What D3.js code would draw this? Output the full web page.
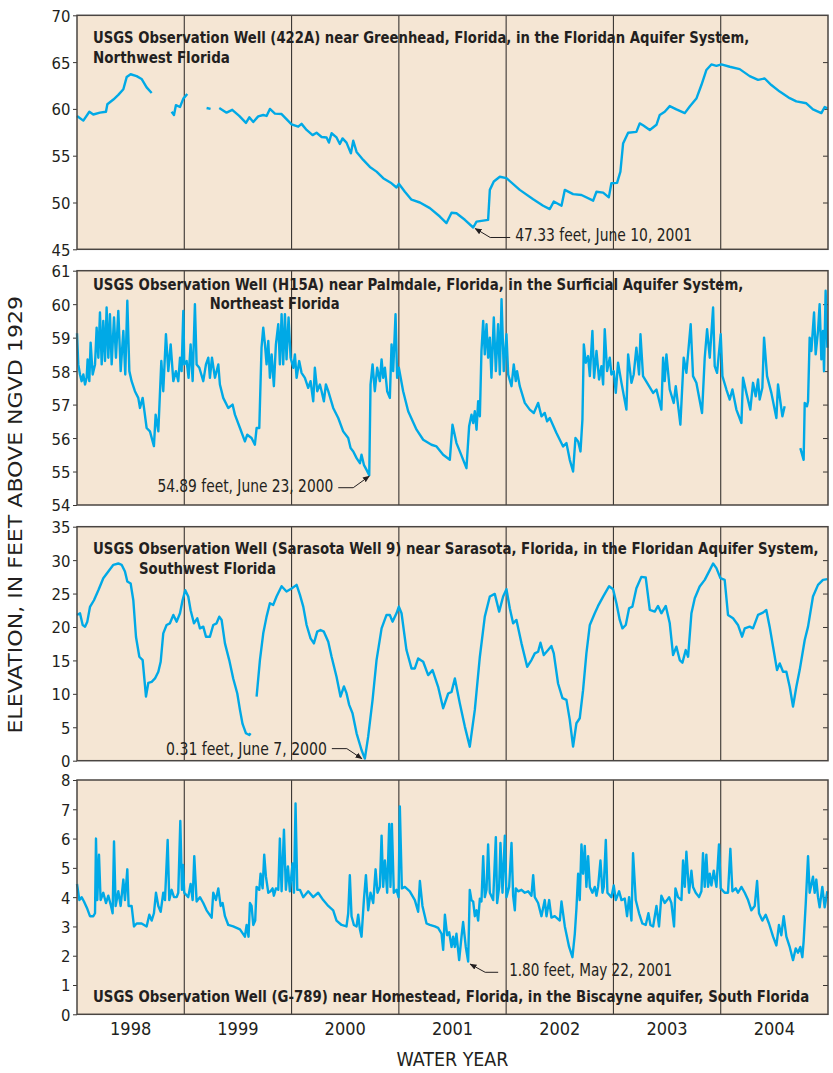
<!DOCTYPE html>
<html>
<head>
<meta charset="utf-8">
<script src="https://cdn.jsdelivr.net/npm/d3@7"></script>
<style>
  body { margin: 0; background: #fff; }
  svg { display: block; }
  text { font-family: "Liberation Sans Narrow", "DejaVu Sans Condensed", "Roboto", sans-serif; fill: #231f20; }
</style>
</head>
<body>
<svg id="chart" width="833" height="1073"></svg>
<script>

// water years shown (a water year runs Oct 1 to Sep 30)
const waterYears = [1998, 1999, 2000, 2001, 2002, 2003, 2004];

// well 422A, Greenhead (feet above NGVD 1929), time in decimal years; null = no record
const greenhead = [
  [1997.750,59.25],[1997.809,58.75],[1997.865,59.7],[1997.902,59.4],[1997.964,59.6],[1998.020,59.7],
  [1998.033,60.5],[1998.089,61.0],[1998.135,61.5],[1998.182,62.1],[1998.213,63.4],[1998.250,63.7],
  [1998.306,63.5],[1998.352,63.2],[1998.399,62.3],[1998.446,61.7],[1998.54,null],
  [1998.632,59.7],[1998.654,59.35],[1998.672,60.4],[1998.710,60.2],[1998.741,61.1],[1998.778,61.6],[1998.87,null],
  [1998.958,60.1],[1998.995,60.0],[1999.04,null],
  [1999.076,60.1],[1999.144,59.6],[1999.197,59.9],[1999.262,59.25],[1999.325,58.5],[1999.356,59.1],
  [1999.393,58.6],[1999.439,59.2],[1999.486,59.35],[1999.517,59.25],[1999.548,60.0],[1999.595,59.5],
  [1999.657,59.45],[1999.750,58.35],[1999.812,58.1],[1999.843,58.4],[1999.890,57.75],[1999.946,57.2],
  [1999.983,57.45],[2000.030,57.0],[2000.076,56.95],[2000.098,56.4],[2000.123,57.4],[2000.169,56.95],
  [2000.200,56.25],[2000.225,56.85],[2000.262,56.4],[2000.303,55.25],[2000.325,56.6],[2000.356,55.4],
  [2000.418,54.55],[2000.480,53.8],[2000.542,53.3],[2000.604,52.6],[2000.682,52.05],[2000.728,51.6],
  [2000.750,52.0],[2000.806,51.15],[2000.868,50.3],[2000.946,50.0],[2001.039,49.4],[2001.132,48.5],
  [2001.194,47.8],[2001.241,48.9],[2001.287,48.85],[2001.365,48.15],[2001.443,47.33],[2001.474,47.95],
  [2001.582,48.15],[2001.598,51.35],[2001.635,52.25],[2001.691,52.75],[2001.753,52.6],[2001.877,51.35],
  [2002.002,50.35],[2002.095,49.65],[2002.157,49.3],[2002.194,50.1],[2002.266,49.65],[2002.297,51.35],
  [2002.374,50.9],[2002.452,50.8],[2002.561,50.2],[2002.592,51.15],[2002.654,51.05],[2002.707,50.55],
  [2002.731,52.05],[2002.784,52.1],[2002.815,53.3],[2002.840,56.3],[2002.887,57.45],[2002.964,57.55],
  [2002.995,58.45],[2003.026,58.25],[2003.089,57.75],[2003.151,58.3],[2003.182,59.35],[2003.228,59.7],
  [2003.275,60.3],[2003.337,59.95],[2003.415,59.55],[2003.461,60.25],[2003.523,61.1],[2003.570,62.55],
  [2003.616,64.15],[2003.663,64.75],[2003.710,64.6],[2003.756,64.75],[2003.834,64.5],[2003.927,64.25],
  [2004.020,63.5],[2004.098,63.1],[2004.160,63.25],[2004.222,62.55],[2004.300,61.85],[2004.393,61.15],
  [2004.455,60.8],[2004.548,60.6],[2004.610,59.95],[2004.688,59.55],[2004.719,60.2],[2004.744,60.05]
];

// well H15A, Palmdale
const palmdale = [
  [1997.750,59.13],[1997.762,58.2],[1997.778,57.9],[1997.793,57.7],[1997.809,57.9],[1997.825,57.6],
  [1997.840,57.8],[1997.849,58.35],[1997.865,57.7],[1997.877,58.85],[1997.896,57.9],[1997.918,58.2],
  [1997.933,59.3],[1997.949,58.4],[1997.964,59.75],[1997.980,58.2],[1997.995,59.5],[1998.011,58.3],
  [1998.026,59.9],[1998.042,58.4],[1998.057,59.7],[1998.073,58.2],[1998.095,59.6],[1998.113,58.4],
  [1998.135,59.8],[1998.157,58.0],[1998.182,59.2],[1998.200,57.9],[1998.219,60.1],[1998.238,58.0],
  [1998.259,57.7],[1998.290,57.4],[1998.321,57.2],[1998.337,56.9],[1998.362,57.2],[1998.399,56.3],
  [1998.430,56.2],[1998.467,55.76],[1998.483,56.7],[1998.508,56.2],[1998.536,58.3],[1998.554,57.4],
  [1998.579,59.1],[1998.601,58.0],[1998.623,58.8],[1998.648,57.7],[1998.672,58.0],[1998.694,57.7],
  [1998.710,58.4],[1998.725,58.0],[1998.741,59.8],[1998.750,58.2],[1998.772,58.3],[1998.790,57.8],
  [1998.809,58.8],[1998.828,57.7],[1998.849,60.0],[1998.865,58.2],[1998.890,58.1],[1998.927,57.7],
  [1998.952,58.2],[1998.974,58.4],[1998.989,57.8],[1999.008,58.4],[1999.036,57.8],[1999.067,58.2],
  [1999.082,57.6],[1999.113,57.2],[1999.160,56.9],[1999.200,57.0],[1999.222,56.7],[1999.269,56.3],
  [1999.315,55.9],[1999.337,56.1],[1999.377,56.0],[1999.408,55.8],[1999.424,56.3],[1999.449,56.3],
  [1999.470,58.7],[1999.486,59.3],[1999.502,58.8],[1999.517,58.2],[1999.533,58.9],[1999.548,57.8],
  [1999.564,58.5],[1999.585,57.55],[1999.604,58.8],[1999.626,59.4],[1999.641,58.2],[1999.657,59.7],
  [1999.672,58.2],[1999.688,59.7],[1999.703,58.35],[1999.722,59.6],[1999.741,58.4],[1999.766,58.1],
  [1999.781,58.5],[1999.797,57.8],[1999.821,58.3],[1999.843,57.95],[1999.874,57.8],[1999.905,57.5],
  [1999.927,57.7],[1999.952,57.1],[1999.967,58.1],[1999.989,57.4],[2000.014,57.6],[2000.030,57.4],
  [2000.051,57.1],[2000.070,57.6],[2000.092,57.4],[2000.138,56.9],[2000.185,56.6],[2000.231,56.2],
  [2000.278,56.0],[2000.300,55.7],[2000.325,55.6],[2000.356,55.4],[2000.387,55.25],[2000.402,55.5],
  [2000.424,55.2],[2000.449,55.05],[2000.474,54.89],[2000.486,57.6],[2000.505,58.2],[2000.526,57.4],
  [2000.548,58.1],[2000.573,57.7],[2000.589,58.35],[2000.604,57.8],[2000.620,58.1],[2000.641,57.4],
  [2000.666,57.2],[2000.682,58.8],[2000.697,58.0],[2000.719,59.7],[2000.734,57.8],[2000.750,58.1],
  [2000.790,57.4],[2000.837,56.8],[2000.915,56.25],[2000.977,55.95],[2001.054,55.8],[2001.101,55.75],
  [2001.163,55.5],[2001.225,55.35],[2001.250,56.4],[2001.287,55.85],[2001.325,55.55],[2001.380,55.1],
  [2001.405,56.35],[2001.427,56.7],[2001.443,56.45],[2001.458,56.8],[2001.474,56.25],[2001.489,57.1],
  [2001.505,56.65],[2001.520,58.6],[2001.536,59.5],[2001.551,58.5],[2001.567,59.4],[2001.582,58.4],
  [2001.598,59.0],[2001.613,57.8],[2001.635,59.6],[2001.654,58.0],[2001.675,59.4],[2001.691,57.9],
  [2001.707,60.15],[2001.728,58.0],[2001.753,59.1],[2001.769,57.9],[2001.800,57.55],[2001.821,58.2],
  [2001.840,57.7],[2001.852,58.0],[2001.877,57.55],[2001.924,57.05],[2001.970,56.85],[2002.008,56.75],
  [2002.048,57.05],[2002.079,56.65],[2002.110,56.75],[2002.132,56.5],[2002.157,56.6],[2002.219,56.15],
  [2002.281,55.75],[2002.312,55.85],[2002.343,55.35],[2002.374,55.0],[2002.396,56.0],[2002.421,55.9],
  [2002.443,55.6],[2002.461,56.55],[2002.474,58.8],[2002.492,58.25],[2002.514,58.45],[2002.530,57.85],
  [2002.554,59.2],[2002.570,57.8],[2002.592,58.6],[2002.616,57.75],[2002.638,58.15],[2002.654,57.6],
  [2002.669,59.25],[2002.691,58.0],[2002.716,58.4],[2002.731,57.9],[2002.753,58.0],[2002.772,57.35],
  [2002.793,58.25],[2002.825,57.65],[2002.871,56.85],[2002.887,58.5],[2002.918,57.65],[2002.939,57.9],
  [2002.964,58.7],[2002.989,57.9],[2003.002,59.1],[2003.026,57.85],[2003.064,57.65],[2003.120,57.35],
  [2003.151,57.45],[2003.197,56.85],[2003.213,58.4],[2003.228,57.7],[2003.244,58.5],[2003.275,57.45],
  [2003.312,57.05],[2003.331,57.55],[2003.374,56.4],[2003.405,58.4],[2003.430,57.95],[2003.470,59.4],
  [2003.492,57.85],[2003.523,57.65],[2003.576,56.75],[2003.601,58.4],[2003.623,59.25],[2003.648,58.4],
  [2003.679,59.9],[2003.694,58.15],[2003.716,57.95],[2003.750,59.1],[2003.766,57.85],[2003.803,57.45],
  [2003.834,57.15],[2003.859,57.45],[2003.896,56.85],[2003.943,56.45],[2003.958,57.8],[2003.989,57.35],
  [2004.026,56.85],[2004.051,57.65],[2004.076,57.25],[2004.098,57.75],[2004.113,57.15],[2004.138,57.5],
  [2004.154,59.0],[2004.182,57.85],[2004.222,57.35],[2004.269,56.6],[2004.284,57.6],[2004.325,56.65],
  [2004.346,56.95],[2004.42,null],
  [2004.492,55.7],[2004.523,55.35],[2004.533,57.05],[2004.554,56.95],[2004.564,57.1],[2004.579,59.0],
  [2004.595,58.6],[2004.610,59.3],[2004.620,59.75],[2004.635,58.5],[2004.657,59.2],[2004.672,60.0],
  [2004.688,58.35],[2004.703,59.2],[2004.713,58.0],[2004.728,60.4],[2004.744,58.7]
];

// Sarasota Well 9
const sarasota = [
  [1997.750,21.8],[1997.778,22.05],[1997.803,20.3],[1997.825,20.05],[1997.846,20.8],[1997.871,23.0],
  [1997.908,24.0],[1997.949,25.5],[1997.995,27.3],[1998.042,28.3],[1998.089,29.3],[1998.135,29.5],
  [1998.166,29.3],[1998.197,28.3],[1998.219,26.8],[1998.250,26.5],[1998.275,24.0],[1998.300,18.5],
  [1998.331,15.55],[1998.362,15.05],[1998.393,9.6],[1998.415,11.65],[1998.446,11.8],[1998.477,12.3],
  [1998.508,13.3],[1998.530,14.8],[1998.554,19.05],[1998.585,20.3],[1998.616,20.55],[1998.648,21.8],
  [1998.679,20.8],[1998.710,22.05],[1998.734,24.0],[1998.759,25.5],[1998.787,24.55],[1998.809,22.5],
  [1998.840,20.55],[1998.871,21.3],[1998.896,19.8],[1998.927,20.05],[1998.952,18.55],[1998.989,18.55],
  [1999.020,20.3],[1999.051,20.55],[1999.076,21.55],[1999.098,21.05],[1999.129,17.55],[1999.169,15.05],
  [1999.206,12.3],[1999.244,10.05],[1999.269,7.6],[1999.293,5.5],[1999.325,4.1],[1999.356,3.85],
  [1999.368,4.1],[1999.40,null],
  [1999.424,9.6],[1999.455,15.05],[1999.486,19.05],[1999.517,21.55],[1999.548,23.55],[1999.579,23.3],
  [1999.610,24.55],[1999.657,26.1],[1999.703,25.3],[1999.750,25.75],[1999.797,26.3],[1999.828,24.8],
  [1999.859,23.05],[1999.890,20.3],[1999.927,18.3],[1999.958,17.55],[1999.989,19.3],[2000.020,19.55],
  [2000.051,19.3],[2000.092,17.8],[2000.123,15.55],[2000.169,12.55],[2000.206,9.6],[2000.238,11.1],
  [2000.262,10.1],[2000.287,8.35],[2000.318,7.1],[2000.356,4.1],[2000.402,1.6],[2000.433,0.31],
  [2000.464,3.6],[2000.505,9.1],[2000.542,15.05],[2000.589,19.8],[2000.635,21.8],[2000.666,21.8],
  [2000.691,20.8],[2000.728,22.05],[2000.750,23.05],[2000.775,22.05],[2000.821,16.55],[2000.868,13.8],
  [2000.899,13.8],[2000.930,15.3],[2000.977,14.8],[2001.023,12.8],[2001.064,13.55],[2001.116,11.05],
  [2001.163,7.85],[2001.210,10.05],[2001.241,10.3],[2001.272,12.3],[2001.318,8.6],[2001.365,5.1],
  [2001.411,2.1],[2001.458,7.6],[2001.505,15.55],[2001.551,21.55],[2001.598,24.55],[2001.644,24.95],
  [2001.685,22.3],[2001.722,24.55],[2001.753,25.65],[2001.784,22.8],[2001.815,20.55],[2001.846,21.05],
  [2001.893,17.55],[2001.946,14.05],[2001.986,15.05],[2002.017,16.05],[2002.048,16.3],[2002.070,17.65],
  [2002.101,15.8],[2002.141,16.55],[2002.172,17.15],[2002.194,16.05],[2002.234,11.55],[2002.275,9.35],
  [2002.312,9.1],[2002.343,6.1],[2002.374,2.1],[2002.405,5.6],[2002.436,6.35],[2002.467,10.55],
  [2002.498,16.05],[2002.530,20.3],[2002.576,22.05],[2002.607,23.15],[2002.654,24.55],[2002.710,26.1],
  [2002.747,25.65],[2002.778,23.55],[2002.809,21.05],[2002.834,19.8],[2002.865,20.3],[2002.896,22.8],
  [2002.927,23.05],[2002.964,25.8],[2003.011,27.5],[2003.051,27.4],[2003.089,22.55],[2003.135,22.3],
  [2003.166,23.15],[2003.197,22.05],[2003.238,23.15],[2003.275,20.55],[2003.306,15.8],[2003.337,17.05],
  [2003.368,15.05],[2003.393,14.65],[2003.424,16.55],[2003.446,15.55],[2003.477,22.05],[2003.508,24.3],
  [2003.554,26.05],[2003.601,27.05],[2003.648,28.5],[2003.679,29.5],[2003.710,28.8],[2003.747,27.3],
  [2003.787,27.05],[2003.818,21.8],[2003.865,21.3],[2003.911,20.3],[2003.949,18.55],[2003.974,19.8],
  [2004.020,20.05],[2004.051,19.8],[2004.098,21.8],[2004.144,22.15],[2004.175,22.55],[2004.206,20.05],
  [2004.238,17.05],[2004.275,13.55],[2004.300,14.55],[2004.331,13.3],[2004.362,13.3],[2004.393,11.05],
  [2004.424,8.1],[2004.455,11.05],[2004.486,13.55],[2004.533,18.05],[2004.564,20.05],[2004.610,24.55],
  [2004.657,26.3],[2004.703,27.05],[2004.744,27.15]
];

// well G-789, Homestead
const homestead = [
  [1997.750,4.45],[1997.772,3.9],[1997.793,4.0],[1997.815,3.85],[1997.846,3.6],[1997.871,3.35],
  [1997.902,3.35],[1997.918,3.45],[1997.927,6.0],[1997.939,3.9],[1997.955,5.45],[1997.970,3.9],
  [1997.995,4.15],[1998.020,3.8],[1998.042,4.05],[1998.067,3.7],[1998.082,3.45],[1998.095,5.9],
  [1998.110,3.7],[1998.135,4.2],[1998.157,3.7],[1998.182,4.6],[1998.197,3.9],[1998.219,4.95],
  [1998.231,3.7],[1998.259,3.7],[1998.281,3.0],[1998.306,3.1],[1998.352,3.1],[1998.399,3.0],
  [1998.424,3.4],[1998.446,3.2],[1998.467,3.45],[1998.486,4.15],[1998.508,3.7],[1998.530,3.5],
  [1998.554,4.15],[1998.570,3.9],[1998.595,5.95],[1998.610,3.9],[1998.632,4.25],[1998.654,4.0],
  [1998.679,4.0],[1998.694,4.15],[1998.713,6.6],[1998.728,4.25],[1998.738,5.1],[1998.750,4.15],
  [1998.787,4.0],[1998.809,4.45],[1998.828,3.9],[1998.843,5.4],[1998.865,3.85],[1998.896,4.0],
  [1998.927,3.8],[1998.958,3.55],[1999.005,3.3],[1999.020,4.15],[1999.045,3.9],[1999.067,4.3],
  [1999.089,3.7],[1999.107,3.8],[1999.129,3.35],[1999.160,3.05],[1999.206,3.0],[1999.269,2.9],
  [1999.315,2.65],[1999.331,3.05],[1999.349,2.65],[1999.362,3.8],[1999.377,3.7],[1999.393,3.05],
  [1999.411,3.2],[1999.424,4.35],[1999.449,4.25],[1999.461,4.8],[1999.480,4.3],[1999.495,5.45],
  [1999.511,4.7],[1999.533,4.15],[1999.554,4.2],[1999.573,4.3],[1999.585,4.05],[1999.604,4.3],
  [1999.626,4.25],[1999.641,6.0],[1999.657,4.2],[1999.679,6.3],[1999.697,4.25],[1999.716,5.05],
  [1999.734,4.2],[1999.759,5.15],[1999.772,4.15],[1999.787,7.2],[1999.803,4.25],[1999.828,4.25],
  [1999.859,4.0],[1999.905,4.2],[1999.952,4.0],[1999.998,4.15],[2000.045,3.9],[2000.092,3.7],
  [2000.138,3.55],[2000.169,3.2],[2000.216,3.05],[2000.262,3.0],[2000.278,3.45],[2000.293,4.75],
  [2000.309,3.35],[2000.331,3.05],[2000.356,3.0],[2000.371,3.4],[2000.387,2.9],[2000.402,2.65],
  [2000.424,3.9],[2000.443,4.75],[2000.464,3.55],[2000.486,4.15],[2000.511,3.8],[2000.533,4.95],
  [2000.551,4.15],[2000.573,4.35],[2000.589,6.1],[2000.604,4.35],[2000.620,5.25],[2000.641,4.15],
  [2000.660,6.5],[2000.672,4.35],[2000.685,6.5],[2000.703,4.15],[2000.728,4.25],[2000.747,4.0],
  [2000.759,7.1],[2000.778,4.3],[2000.806,4.35],[2000.837,4.25],[2000.852,4.2],[2000.899,3.9],
  [2000.930,3.5],[2000.946,4.55],[2000.970,3.7],[2001.008,3.1],[2001.039,3.05],[2001.085,3.0],
  [2001.116,2.95],[2001.148,2.75],[2001.163,2.2],[2001.179,3.4],[2001.200,2.7],[2001.219,2.8],
  [2001.241,2.3],[2001.256,2.65],[2001.272,2.3],[2001.287,2.75],[2001.312,1.85],[2001.334,2.65],
  [2001.349,3.15],[2001.374,2.3],[2001.396,1.8],[2001.411,4.25],[2001.427,3.9],[2001.443,3.85],
  [2001.458,3.35],[2001.474,3.55],[2001.489,3.2],[2001.505,3.95],[2001.520,3.85],[2001.536,5.4],
  [2001.551,4.0],[2001.567,4.25],[2001.582,5.8],[2001.598,4.15],[2001.629,3.9],[2001.654,6.05],
  [2001.666,3.8],[2001.685,4.35],[2001.697,5.85],[2001.716,4.15],[2001.738,6.1],[2001.753,4.0],
  [2001.778,4.35],[2001.800,5.85],[2001.815,4.05],[2001.831,3.55],[2001.840,4.3],[2001.862,4.2],
  [2001.893,4.25],[2001.924,4.15],[2001.955,4.2],[2001.986,4.05],[2002.002,4.75],[2002.017,4.0],
  [2002.048,3.8],[2002.079,3.35],[2002.110,3.9],[2002.126,3.35],[2002.151,3.9],[2002.172,3.3],
  [2002.203,3.35],[2002.250,3.2],[2002.266,3.85],[2002.297,3.0],[2002.337,2.3],[2002.368,1.95],
  [2002.390,2.75],[2002.405,3.6],[2002.421,4.8],[2002.436,3.9],[2002.452,5.8],[2002.467,4.8],
  [2002.483,5.75],[2002.498,4.35],[2002.514,5.4],[2002.530,4.35],[2002.554,4.15],[2002.576,4.35],
  [2002.592,4.05],[2002.607,4.35],[2002.629,5.25],[2002.648,4.15],[2002.660,4.35],[2002.679,5.95],
  [2002.694,4.15],[2002.731,4.0],[2002.753,4.4],[2002.772,3.9],[2002.803,4.2],[2002.825,3.9],
  [2002.856,3.95],[2002.877,3.35],[2002.896,4.0],[2002.918,3.2],[2002.933,5.5],[2002.958,3.9],
  [2002.989,3.45],[2003.020,3.1],[2003.051,3.05],[2003.076,3.45],[2003.095,3.05],[2003.120,3.0],
  [2003.151,3.7],[2003.175,3.0],[2003.197,4.05],[2003.228,3.8],[2003.250,3.9],[2003.269,4.0],
  [2003.290,3.8],[2003.315,3.0],[2003.328,4.3],[2003.352,4.0],[2003.384,3.9],[2003.399,5.25],
  [2003.415,4.35],[2003.430,5.55],[2003.455,4.15],[2003.477,4.9],[2003.492,4.35],[2003.517,4.15],
  [2003.548,4.0],[2003.570,4.2],[2003.585,5.5],[2003.601,4.35],[2003.616,5.45],[2003.632,4.35],
  [2003.648,4.8],[2003.663,4.4],[2003.685,4.9],[2003.710,4.35],[2003.734,5.8],[2003.750,4.3],
  [2003.787,4.15],[2003.818,4.15],[2003.840,5.65],[2003.859,4.2],[2003.890,4.3],[2003.911,4.15],
  [2003.943,4.35],[2003.974,4.15],[2004.005,3.9],[2004.036,3.55],[2004.067,3.7],[2004.089,4.55],
  [2004.107,3.45],[2004.138,3.2],[2004.169,3.4],[2004.200,3.1],[2004.238,2.65],[2004.269,2.35],
  [2004.293,3.05],[2004.315,2.7],[2004.337,3.35],[2004.362,2.65],[2004.393,2.3],[2004.424,1.85],
  [2004.449,2.25],[2004.470,2.1],[2004.492,2.3],[2004.511,1.95],[2004.523,2.5],[2004.542,3.75],
  [2004.564,5.4],[2004.579,4.15],[2004.610,4.7],[2004.626,4.15],[2004.641,4.6],[2004.657,4.0],
  [2004.672,3.65],[2004.697,4.35],[2004.719,3.65],[2004.744,4.2]
];

// y-axis ticks of each panel
const greenheadTicks = [45, 50, 55, 60, 65, 70];
const palmdaleTicks = [54, 55, 56, 57, 58, 59, 60, 61];
const sarasotaTicks = [0, 5, 10, 15, 20, 25, 30, 35];
const homesteadTicks = [0, 1, 2, 3, 4, 5, 6, 7, 8];

// panel titles (one entry per line)
const greenheadTitle = ['USGS Observation Well (422A) near Greenhead, Florida, in the Floridan Aquifer System,', 'Northwest Florida'];
const palmdaleTitle = ['USGS Observation Well (H15A) near Palmdale, Florida, in the Surficial Aquifer System,', 'Northeast Florida'];
const sarasotaTitle = ['USGS Observation Well (Sarasota Well 9) near Sarasota, Florida, in the Floridan Aquifer System,', 'Southwest Florida'];
const homesteadTitle = ['USGS Observation Well (G-789) near Homestead, Florida, in the Biscayne aquifer, South Florida'];

// record lows that are called out
const greenheadLow = { t: 2001.443, v: 47.33, label: '47.33 feet, June 10, 2001' };
const palmdaleLow = { t: 2000.474, v: 54.89, label: '54.89 feet, June 23, 2000' };
const sarasotaLow = { t: 2000.433, v: 0.31, label: '0.31 feet, June 7, 2000' };
const homesteadLow = { t: 2001.396, v: 1.80, label: '1.80 feet, May 22, 2001' };

const svg = d3.select('#chart');
const left = 77, right = 828;
const lineColor = '#00a9e6';
const ink = '#231f20';

let x = d3.scaleLinear()
  .domain([waterYears[0] - 0.25, waterYears[waterYears.length - 1] + 0.75])
  .range([left, right]);

// squeeze a text horizontally (the original face is a condensed one)
function placeText(parent, str, tx, ty, width, opts) {
  let t = parent.append('text')
    .attr('font-size', opts.size)
    .attr('font-weight', opts.bold ? 'bold' : null)
    .attr('text-anchor', opts.anchor || 'start')
    .text(str);
  let natural = t.node().getComputedTextLength();
  let s = width / natural;
  t.attr('transform', `translate(${tx},${ty})${opts.rotate ? ' rotate(' + opts.rotate + ')' : ''} scale(${s},1)`);
  return t;
}

// title line layout: [x, baseline offset from panel top, width]
let panels = [
  { data: greenhead, ticks: greenheadTicks, top: 15.3, bottom: 249.3, title: greenheadTitle,
    titleLayout: [[93, 28, 657], [93, 47.5, 137]], low: greenheadLow,
    callout: { tip: [2, 1], elbow: [17, 10], end: [37, 10], text: [42, 14], anchor: 'start', width: 177 } },
  { data: palmdale, ticks: palmdaleTicks, top: 270.7, bottom: 505, title: palmdaleTitle,
    titleLayout: [[93, 19.5, 651], [209.7, 38.5, 130]], low: palmdaleLow,
    callout: { tip: [0, 1], elbow: [-16, 12.5], end: [-31, 12.5], text: [-36, 16.5], anchor: 'end', width: 176 } },
  { data: sarasota, ticks: sarasotaTicks, top: 526.7, bottom: 760.7, title: sarasotaTitle,
    titleLayout: [[93, 27.5, 726], [139, 47, 137]], low: sarasotaLow,
    callout: { tip: [-3, 0], elbow: [-18, -10], end: [-33, -10], text: [-38, -3.6], anchor: 'end', width: 161 } },
  { data: homestead, ticks: homesteadTicks, top: 780, bottom: 1014.3, title: homesteadTitle,
    titleLayout: [[93, 221.5, 717]], low: homesteadLow,
    callout: { tip: [2, 2.5], elbow: [17, 10.7], end: [30, 10.7], text: [41, 14.4], anchor: 'start', width: 163 } }
];

svg.append('defs').append('marker')
  .attr('id', 'arrow')
  .attr('viewBox', '0 0 10 10')
  .attr('refX', 9).attr('refY', 5)
  .attr('markerWidth', 7).attr('markerHeight', 7)
  .attr('markerUnits', 'userSpaceOnUse')
  .attr('orient', 'auto')
  .append('path')
  .attr('d', 'M0,1 L10,5 L0,9 Z')
  .attr('fill', ink);

for (let p of panels) {
  let y = d3.scaleLinear()
    .domain([p.ticks[0], p.ticks[p.ticks.length - 1]])
    .range([p.bottom, p.top]);

  let g = svg.append('g');

  g.append('rect')
    .attr('x', left).attr('y', p.top)
    .attr('width', right - left).attr('height', p.bottom - p.top)
    .attr('fill', '#f5e6d4');

  // water year dividers
  g.selectAll('line.div')
    .data(waterYears.slice(1))
    .join('line')
    .attr('x1', d => x(d - 0.25)).attr('x2', d => x(d - 0.25))
    .attr('y1', p.top).attr('y2', p.bottom)
    .attr('stroke', '#3a3633').attr('stroke-width', 1.1);

  // left axis with labels
  let axL = g.append('g')
    .attr('transform', `translate(${left},0)`)
    .call(d3.axisLeft(y).tickValues(p.ticks).tickSize(4).tickPadding(2.5).tickFormat(d3.format('d')));
  axL.select('.domain').remove();
  axL.selectAll('line').attr('stroke', '#3a3633');
  axL.selectAll('text').attr('font-size', 16.5).attr('fill', ink).attr('dy', '0.36em');

  // right axis, inward ticks only
  let axR = g.append('g')
    .attr('transform', `translate(${right},0)`)
    .call(d3.axisLeft(y).tickValues(p.ticks.slice(1, -1)).tickSize(5).tickFormat(''));
  axR.select('.domain').remove();
  axR.selectAll('line').attr('stroke', '#3a3633');

  // titles
  p.title.forEach((t, i) => {
    let [tx, ty, tw] = p.titleLayout[i];
    placeText(g, t, tx, p.top + ty, tw, { size: 16.5, bold: true });
  });

  // hydrograph
  let line = d3.line()
    .defined(d => d[1] != null)
    .x(d => x(d[0]))
    .y(d => y(d[1]));

  g.append('path')
    .datum(p.data)
    .attr('d', line)
    .attr('fill', 'none')
    .attr('stroke', lineColor)
    .attr('stroke-width', 2.4)
    .attr('stroke-linejoin', 'round');

  // record low callout
  let px = x(p.low.t), py = y(p.low.v);
  let c = p.callout;
  g.append('path')
    .attr('d', `M${px + c.end[0]},${py + c.end[1]} L${px + c.elbow[0]},${py + c.elbow[1]} L${px + c.tip[0]},${py + c.tip[1]}`)
    .attr('fill', 'none')
    .attr('stroke', ink)
    .attr('stroke-width', 1)
    .attr('marker-end', 'url(#arrow)');
  placeText(g, p.low.label, px + c.text[0], py + c.text[1], c.width, { size: 17, anchor: c.anchor });

  // frame
  g.append('rect')
    .attr('x', left).attr('y', p.top)
    .attr('width', right - left).attr('height', p.bottom - p.top)
    .attr('fill', 'none')
    .attr('stroke', '#4a4542').attr('stroke-width', 1.5);
}

// year labels, centred on each water year
svg.append('g')
  .selectAll('text')
  .data(waterYears)
  .join('text')
  .attr('x', d => x(d + 0.25))
  .attr('y', 1035)
  .attr('text-anchor', 'middle')
  .attr('font-size', 18)
  .text(d => d);

placeText(svg, 'WATER YEAR', (left + right) / 2, 1066, 112, { size: 19, anchor: 'middle' });

placeText(svg, 'ELEVATION, IN FEET ABOVE NGVD 1929', 22, (15.3 + 1014.3) / 2, 438,
  { size: 19, anchor: 'middle', rotate: -90 });

</script>
</body>
</html>
